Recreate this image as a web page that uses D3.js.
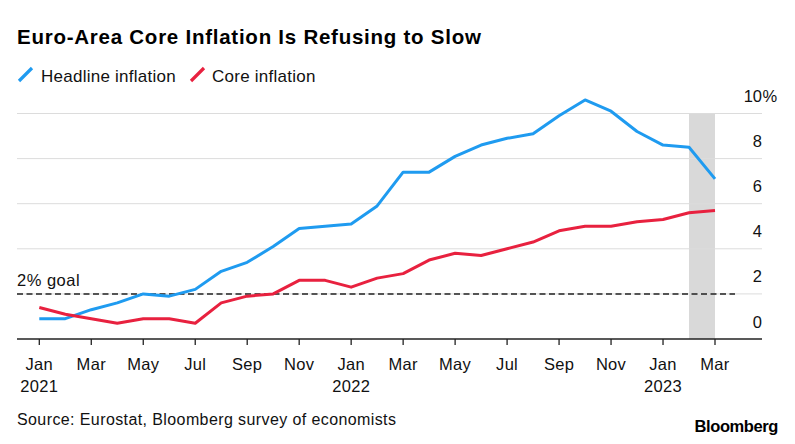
<!DOCTYPE html>
<html><head><meta charset="utf-8">
<script src="https://cdn.jsdelivr.net/npm/d3@7"></script>
<style>
html,body{margin:0;padding:0;background:#fff;}
text{font-family:"Liberation Sans",Arial,sans-serif;}
</style></head>
<body>
<svg id="chart" width="795" height="444"></svg>
<script>
const months = ["2021-01","2021-02","2021-03","2021-04","2021-05","2021-06","2021-07","2021-08","2021-09","2021-10","2021-11","2021-12",
"2022-01","2022-02","2022-03","2022-04","2022-05","2022-06","2022-07","2022-08","2022-09","2022-10","2022-11","2022-12",
"2023-01","2023-02","2023-03"];
const headline = [0.9,0.9,1.3,1.6,2.0,1.9,2.2,3.0,3.4,4.1,4.9,5.0,5.1,5.9,7.4,7.4,8.1,8.6,8.9,9.1,9.9,10.6,10.1,9.2,8.6,8.5,7.1];
const core = [1.4,1.1,0.9,0.7,0.9,0.9,0.7,1.6,1.9,2.0,2.6,2.6,2.3,2.7,2.9,3.5,3.8,3.7,4.0,4.3,4.8,5.0,5.0,5.2,5.3,5.6,5.7];
const yTicks = [0,2,4,6,8,10];
const monthNames = ["Jan","Feb","Mar","Apr","May","Jun","Jul","Aug","Sep","Oct","Nov","Dec"];
const goal = 2;
const shadedFrom = "2023-02", shadedTo = "2023-03";
const seriesNames = ["Headline inflation","Core inflation"];
const colors = ["#1f9bf0","#e8213f"];

const svg = d3.select("#chart");
const x = d3.scalePoint().domain(months).range([39.3, 715]);
const y = d3.scaleLinear().domain([0,10]).range([339, 113.5]);
const left = 17, right = 762;

// title
svg.append("text").attr("x",17).attr("y",44).attr("font-size",20.5).attr("font-weight","bold")
  .attr("letter-spacing","0.75").attr("fill","#000")
  .text("Euro-Area Core Inflation Is Refusing to Slow");

// legend
const leg = [{x:18,tx:41},{x:190,tx:212}];
seriesNames.forEach((n,i)=>{
  svg.append("line").attr("x1",leg[i].x+1).attr("y1",81).attr("x2",leg[i].x+14).attr("y2",68)
    .attr("stroke",colors[i]).attr("stroke-width",3.2);
  svg.append("text").attr("x",leg[i].tx).attr("y",81.5).attr("font-size",17).attr("letter-spacing","0.25")
    .attr("fill","#111").text(n);
});

// shaded band
svg.append("rect").attr("x",x(shadedFrom)).attr("y",y(10)).attr("width",x(shadedTo)-x(shadedFrom))
  .attr("height",y(0)-y(10)).attr("fill","#d9d9d9");

// gridlines
svg.append("g").selectAll("line").data(yTicks.filter(d=>d>0)).join("line")
  .attr("x1",left).attr("x2",right).attr("y1",d=>y(d)).attr("y2",d=>y(d))
  .attr("stroke","#dcdcdc").attr("stroke-width",1);

// y labels
const yl = svg.append("g");
yTicks.forEach(d=>{
  yl.append("text").attr("x",right).attr("y",y(d)-11.5).attr("text-anchor","end")
    .attr("font-size",16.5).attr("fill","#111").text(d);
  if(d===10) yl.append("text").attr("x",right+0.5).attr("y",y(d)-11.5)
    .attr("font-size",16.5).attr("fill","#111").text("%");
});

// goal line
svg.append("line").attr("x1",left).attr("x2",735).attr("y1",y(goal)).attr("y2",y(goal))
  .attr("stroke","#222").attr("stroke-width",1.5).attr("stroke-dasharray","6,3.5");
svg.append("text").attr("x",17).attr("y",y(goal)-8).attr("font-size",16.5).attr("letter-spacing","0.5")
  .attr("fill","#111").text("2% goal");

// lines
const line = d3.line().x((d,i)=>x(months[i])).y(d=>y(d)).curve(d3.curveLinear);
[headline, core].forEach((s,i)=>{
  svg.append("path").datum(s).attr("d",line).attr("fill","none").attr("stroke",colors[i])
    .attr("stroke-width",3).attr("stroke-linejoin","round").attr("stroke-linecap","butt");
});

// x axis
svg.append("line").attr("x1",left).attr("x2",right).attr("y1",y(0)).attr("y2",y(0))
  .attr("stroke","#222").attr("stroke-width",1.3);
const tickMonths = months.filter((m,i)=>i%2===0);
const xg = svg.append("g");
tickMonths.forEach(m=>{
  const [yr, mo] = m.split("-").map(Number);
  xg.append("line").attr("x1",x(m)).attr("x2",x(m)).attr("y1",y(0)).attr("y2",y(0)+6)
    .attr("stroke","#222").attr("stroke-width",1.3);
  xg.append("text").attr("x",x(m)).attr("y",370).attr("text-anchor","middle")
    .attr("font-size",16.5).attr("letter-spacing","0.3").attr("fill","#111").text(monthNames[mo-1]);
  if(mo===1) xg.append("text").attr("x",x(m)).attr("y",391.5).attr("text-anchor","middle")
    .attr("font-size",16.5).attr("letter-spacing","0.3").attr("fill","#111").text(yr);
});

// source
svg.append("text").attr("x",17).attr("y",425).attr("font-size",16).attr("letter-spacing","0.4").attr("fill","#111")
  .text("Source: Eurostat, Bloomberg survey of economists");
svg.append("text").attr("x",778).attr("y",432).attr("text-anchor","end").attr("font-size",16.5)
  .attr("font-weight","bold").attr("letter-spacing","-0.4").attr("fill","#000").text("Bloomberg");
</script>
</body></html>
